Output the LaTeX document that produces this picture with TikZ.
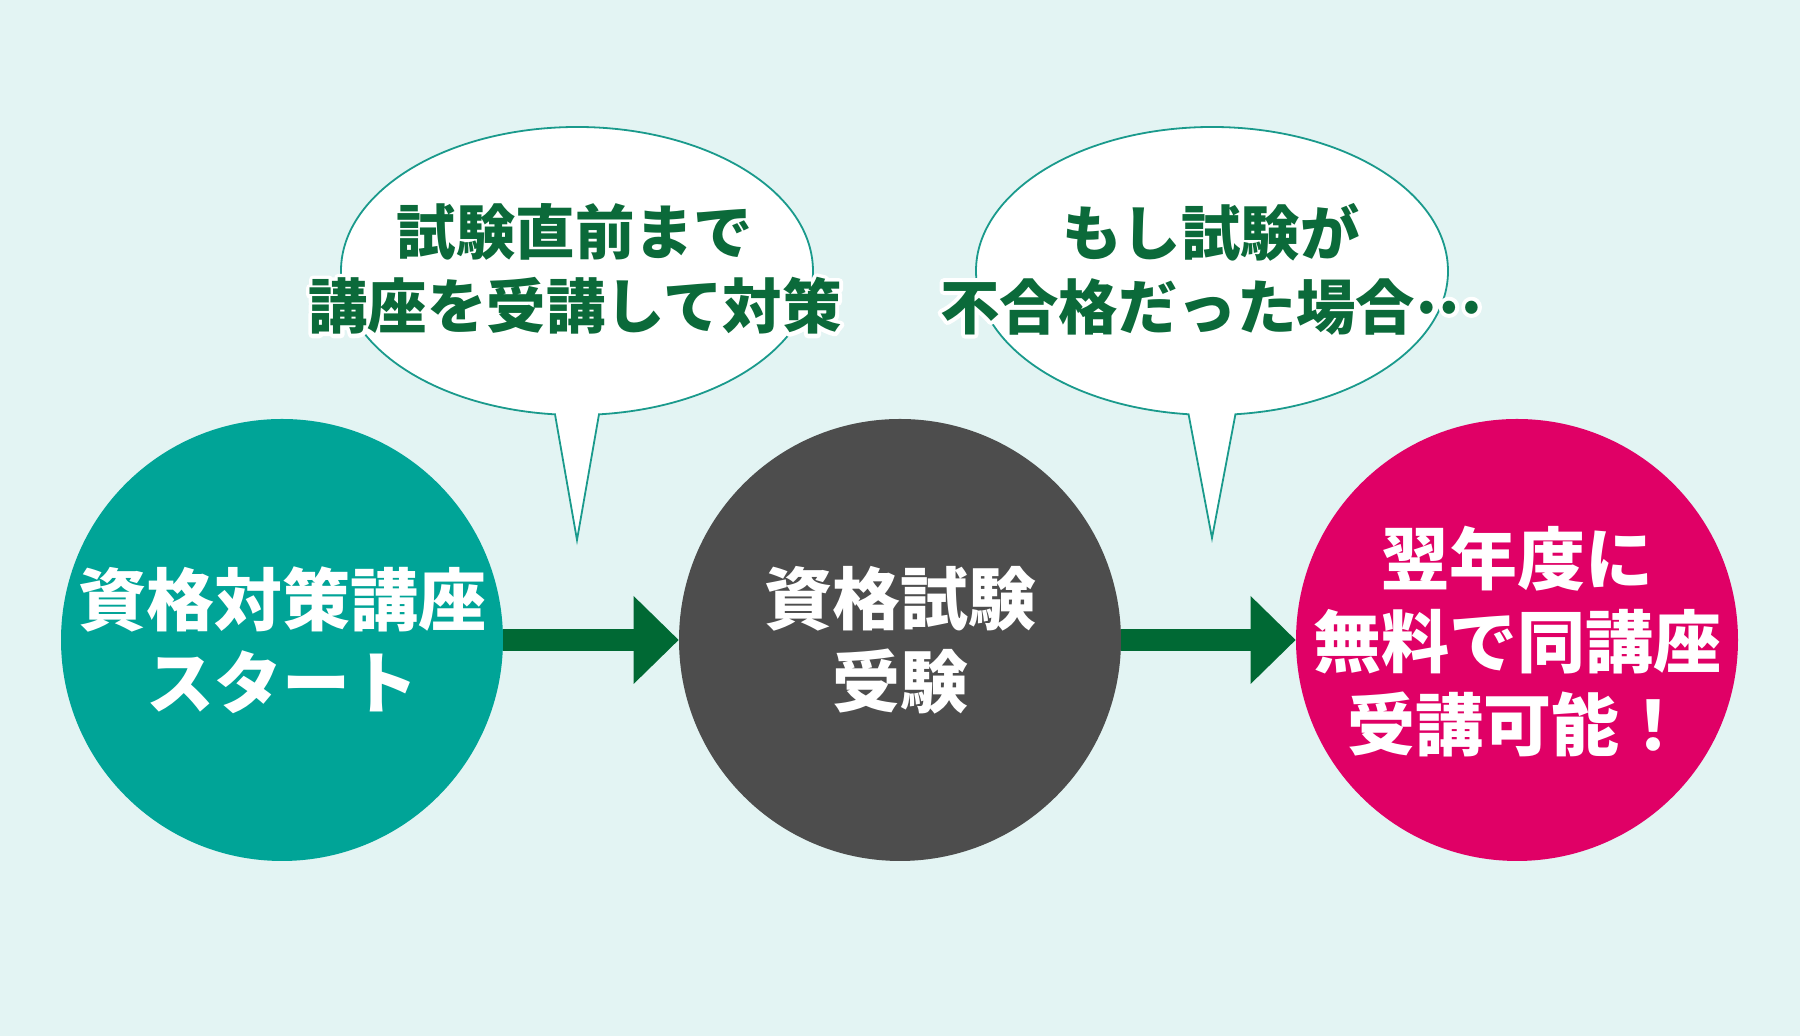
\documentclass[tikz,border=0pt]{standalone}
\usepackage{fontspec}
\newfontfamily\jp{Noto Sans CJK JP}
\usetikzlibrary{calc}
\definecolor{bgc}{HTML}{E3F4F3}
\definecolor{tealc}{HTML}{00A497}
\definecolor{grayc}{HTML}{4D4D4D}
\definecolor{magc}{HTML}{E00066}
\definecolor{arrowc}{HTML}{006934}
\definecolor{bubtxt}{HTML}{0B6A3A}
\definecolor{bubline}{HTML}{1A9A8C}
% white halo: stroke-only copy in white, then the normal fill on top
\newcommand\halotext[1]{\leavevmode\rlap{\special{pdf:literal direct 1 Tr 1 1 1 RG 4 w 1 j}#1\special{pdf:literal direct 0 Tr}}#1}
\tikzset{
  stepcircle/.style={circle, minimum size=221pt, inner sep=0pt},
  circtext/.style={text=white, align=center, inner sep=0pt,
    font=\jp\bfseries\fontsize{34pt}{41.5pt}\selectfont},
  bubble/.style={fill=white, draw=bubline, line width=0.9pt, line join=miter},
  bubtext/.style={text=bubtxt, align=center, inner sep=0pt,
    font=\jp\bfseries\fontsize{29.7pt}{37pt}\selectfont},
  shaft/.style={draw=arrowc, line width=11pt},
  headfill/.style={fill=arrowc}
}
\begin{document}
\begin{tikzpicture}[x=0.5pt,y=0.5pt]
\fill[bgc] (0,0) rectangle (1800,1036);
\useasboundingbox (0,0) rectangle (1800,1036);

% speech bubbles
\filldraw[bubble] ([shift={(-84.65:118pt and 72pt)}]577,765)
  arc[start angle=-84.65, end angle=264.65, x radius=118pt, y radius=72pt]
  -- (577,496) -- cycle;
\filldraw[bubble] ([shift={(-84.3:118pt and 72pt)}]1212,765)
  arc[start angle=-84.3, end angle=264.3, x radius=118pt, y radius=72pt]
  -- (1212,498) -- cycle;

% circles
\node[stepcircle, fill=tealc] (c1) at (282,396) {};
\node[stepcircle, fill=grayc] (c2) at (900,396) {};
\node[stepcircle, fill=magc] (c3) at (1517,396) {};

% arrows
\draw[shaft] (c1.east) -- ($(c2.west)+(-44,0)$);
\fill[headfill] (c2.west) -- ++(-45,44) -- ++(0,-88) -- cycle;
\draw[shaft] (c2.east) -- ($(c3.west)+(-44,0)$);
\fill[headfill] (c3.west) -- ++(-45,44) -- ++(0,-88) -- cycle;

% texts
\node[circtext] (t1) at (c1.center) {資格対策講座\\スタート};
\node[circtext] (t2) at (c2.center) {資格試験\\受験};
\node[circtext] (t3) at ([yshift=-1pt]c3.center) {翌年度に\\無料で同講座\\受講可能！};

\node[bubtext] (b1) at (575,767) {\halotext{試験直前まで}\\\halotext{講座を受講して対策}};
\node[bubtext] (b2) at (1211,767) {\halotext{もし試験が}\\\halotext{不合格だった場合\raisebox{0.27em}{…}}};
\end{tikzpicture}
\end{document}
